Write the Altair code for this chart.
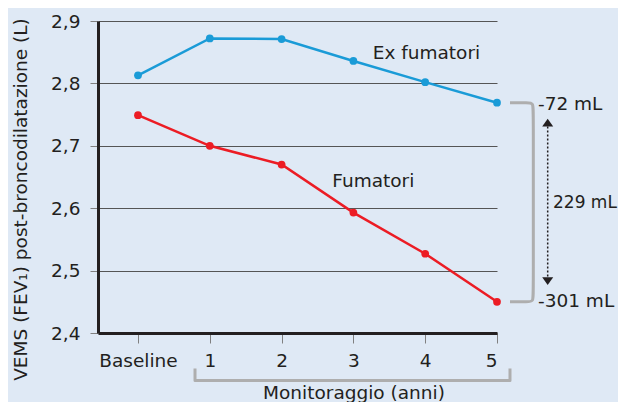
import altair as alt
import pandas as pd

# ---- data ----
years = [0, 1, 2, 3, 4, 5]
x_labels = ["Baseline", "1", "2", "3", "4", "5"]
ex_fumatori = [2.813, 2.872, 2.871, 2.836, 2.802, 2.769]
fumatori = [2.749, 2.700, 2.670, 2.593, 2.527, 2.450]
y_ticks = [2.4, 2.5, 2.6, 2.7, 2.8, 2.9]
series = ["Ex fumatori", "Fumatori"]
colors = ["#1a9bd7", "#ec1c24"]

# annotations (data units)
label_texts = ["Ex fumatori", "Fumatori", "-72 mL", "229 mL", "-301 mL"]
label_x = [3.269, 2.706, 5.571, 5.780, 5.571]
label_y = [2.848, 2.643, 2.767, 2.608, 2.451]
label_size = [18.5, 18.5, 18.5, 17, 18.5]

bracket_x = [0.794, 0.794, 5.181, 5.181]
bracket_y = [2.343, 2.324, 2.324, 2.343]

brace_x = [5.181, 5.43, 5.506, 5.506, 5.506, 5.506, 5.43, 5.181]
brace_y = [2.769, 2.769, 2.769, 2.753, 2.466, 2.450, 2.450, 2.450]

arrow_x = [5.706]
arrow_y = [2.731]
arrow_y2 = [2.489]
arrowhead_y = [2.737, 2.483]

FONT = "DejaVu Sans"
FS = 18.5
INK = "#231f20"

df = pd.DataFrame({
    "anno": years + years,
    "vems": ex_fumatori + fumatori,
    "gruppo": [series[0]] * len(years) + [series[1]] * len(years),
})
df_text = pd.DataFrame({"anno": label_x, "vems": label_y, "testo": label_texts, "fs": label_size})
df_bracket = pd.DataFrame({"anno": bracket_x, "vems": bracket_y, "ord": list(range(len(bracket_x)))})
df_brace = pd.DataFrame({"anno": brace_x, "vems": brace_y, "ord": list(range(len(brace_x)))})
df_arrow = pd.DataFrame({"anno": arrow_x, "vems": arrow_y, "vems2": arrow_y2})
df_heads = pd.DataFrame({"anno": arrow_x * 2, "vems": arrowhead_y,
                         "dir": ["up", "down"]})

xs = alt.Scale(domain=[-0.557, 5], nice=False, zero=False)
ys = alt.Scale(domain=[2.4, 2.9], nice=False, zero=False)

x_label_expr = "[" + ",".join("'" + s + "'" for s in x_labels) + "][datum.value]"

x_axis = alt.Axis(
    values=years, labelExpr=x_label_expr, grid=False,
    title="Monitoraggio (anni)", titleX=255.5, titleY=65, titleAlign="center",
    titleBaseline="alphabetic", titleAngle=0,
    tickSize=10, tickColor="#808080", tickWidth=1, labelPadding=8,
    domainColor=INK, domainWidth=3,
)
y_axis = alt.Axis(
    values=y_ticks, labelExpr="replace(format(datum.value, '.1f'), '.', ',')",
    title="VEMS (FEV\u2081) post-broncodilatazione (L)",
    titleX=-78, titleY=178, titleAngle=270, titleAlign="center", titleBaseline="middle",
    tickSize=8, tickColor="#808080", tickWidth=1, labelPadding=10,
    domainColor=INK, domainWidth=3, grid=True, gridColor="#555555", gridWidth=1,
)

color = alt.Color("gruppo:N", scale=alt.Scale(domain=series, range=colors), legend=None)

lines = alt.Chart(df).mark_line(strokeWidth=2.5).encode(
    x=alt.X("anno:Q", scale=xs, axis=x_axis),
    y=alt.Y("vems:Q", scale=ys, axis=y_axis),
    color=color,
)
points = alt.Chart(df).mark_circle(size=60, opacity=1).encode(
    x=alt.X("anno:Q", scale=xs),
    y=alt.Y("vems:Q", scale=ys),
    color=color,
)
texts = alt.Chart(df_text).mark_text(
    align="left", baseline="middle", font=FONT, color=INK, clip=False
).encode(
    x=alt.X("anno:Q", scale=xs), y=alt.Y("vems:Q", scale=ys), text="testo:N",
    size=alt.Size("fs:Q", scale=None, legend=None),
)
bracket = alt.Chart(df_bracket).mark_line(
    color="#aeaeae", strokeWidth=3, clip=False, strokeJoin="round"
).encode(
    x=alt.X("anno:Q", scale=xs), y=alt.Y("vems:Q", scale=ys), order="ord:Q"
)
brace = alt.Chart(df_brace).mark_line(
    color="#aeaeae", strokeWidth=3, clip=False, interpolate="basis"
).encode(
    x=alt.X("anno:Q", scale=xs), y=alt.Y("vems:Q", scale=ys), order="ord:Q"
)
arrow = alt.Chart(df_arrow).mark_rule(
    color=INK, strokeWidth=1.5, strokeDash=[2, 2], clip=False
).encode(
    x=alt.X("anno:Q", scale=xs), y=alt.Y("vems:Q", scale=ys), y2="vems2:Q"
)
heads = alt.Chart(df_heads).mark_point(
    filled=True, color=INK, opacity=1, size=121, clip=False
).encode(
    x=alt.X("anno:Q", scale=xs), y=alt.Y("vems:Q", scale=ys),
    shape=alt.Shape("dir:N", scale=alt.Scale(
        domain=["up", "down"],
        range=["M-1,0.7L1,0.7L0,-0.7Z", "M-1,-0.7L1,-0.7L0,0.7Z"]), legend=None),
)

chart = alt.layer(lines, points, texts, bracket, brace, arrow, heads).properties(
    width=399, height=312,
    autosize=alt.AutoSizeParams(type="none"),
    padding={"left": 90, "top": 13, "right": 121, "bottom": 69},
    background="#dfe9f5",
).configure_view(stroke=None).configure_axis(
    labelFont=FONT, labelFontSize=FS, labelColor=INK,
    titleFont=FONT, titleFontSize=FS, titleColor=INK, titleFontWeight="normal",
)

chart.save("out.html", embed_options={"renderer": "svg", "actions": False})
